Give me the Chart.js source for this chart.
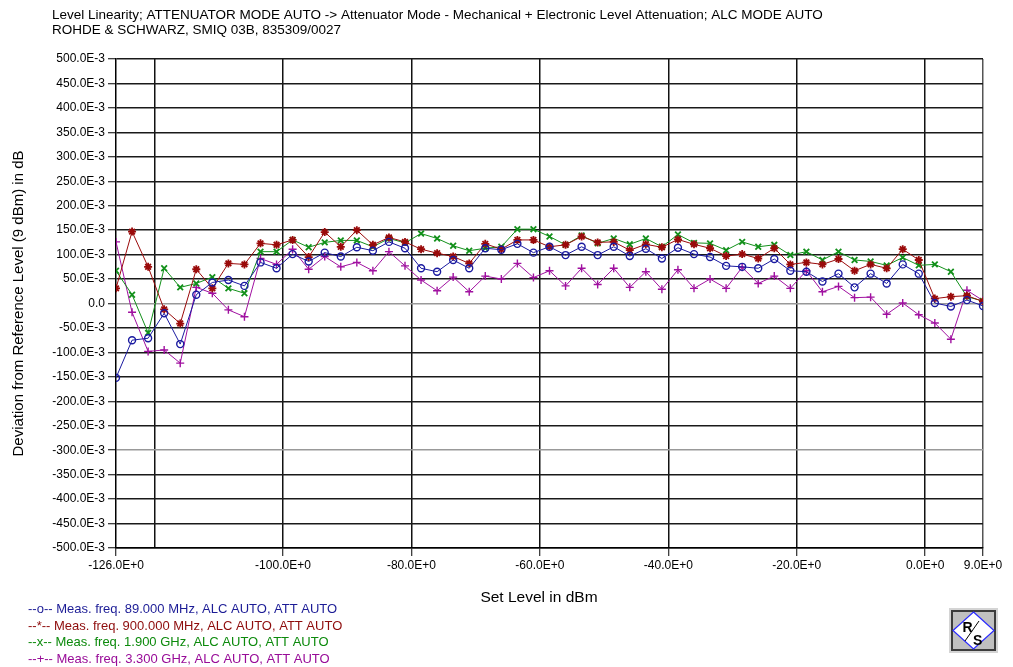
<!DOCTYPE html>
<html>
<head>
<meta charset="utf-8">
<title>Level Linearity</title>
<script src="https://cdn.jsdelivr.net/npm/chart.js@4.4.1/dist/chart.umd.min.js"></script>
<style>
    html, body { margin: 0; padding: 0; background: #fff; }
    #chart-box { position: relative; width: 1013px; height: 667px; }
</style>
</head>
<body>
<div id="chart-box">
    <canvas id="level-chart" width="1013" height="667"></canvas>
</div>
<script>
// Set levels in dBm
const levels = [-126, -123.5, -121, -118.5, -116, -113.5, -111, -108.5, -106, -103.5, -101, -98.5, -96,
    -93.5, -91, -88.5, -86, -83.5, -81, -78.5, -76, -73.5, -71, -68.5, -66, -63.5, -61, -58.5, -56,
    -53.5, -51, -48.5, -46, -43.5, -41, -38.5, -36, -33.5, -31, -28.5, -26, -23.5, -21, -18.5, -16,
    -13.5, -11, -8.5, -6, -3.5, -1, 1.5, 4, 6.5, 9];

// Deviation from reference level, in E-3 dB
const dev89MHz = [-152, -75, -71, -20, -83, 18, 43, 48, 36, 84, 72, 101, 86,
    104, 96, 115, 108, 126, 113, 72, 65, 89, 72, 113, 110, 122, 104, 116, 99,
    116, 99, 116, 97, 112, 92, 114, 101, 95, 77, 75, 72, 91, 67, 65, 45,
    61, 33, 61, 41, 80, 61, 1, -6, 7, -5];
const dev900MHz = [31, 147, 75, -12, -41, 70, 31, 82, 80, 123, 120, 130, 95,
    146, 116, 150, 120, 135, 126, 111, 103, 96, 82, 122, 111, 130, 130, 116, 120,
    137, 125, 126, 109, 121, 115, 131, 121, 113, 97, 101, 92, 113, 80, 84, 80,
    91, 67, 80, 72, 111, 89, 10, 14, 16, 4];
const dev1900MHz = [67, 18, -60, 72, 33, 41, 54, 31, 21, 106, 106, 130, 115,
    125, 129, 129, 116, 133, 124, 143, 133, 118, 108, 113, 116, 152, 152, 137, 120,
    139, 123, 133, 121, 133, 116, 141, 124, 123, 109, 126, 116, 120, 99, 106, 89,
    106, 89, 86, 78, 94, 78, 80, 65, 14, 5];
const dev3300MHz = [126, -18, -98, -95, -122, 33, 21, -13, -27, 92, 80, 111, 70,
    96, 75, 84, 67, 106, 77, 48, 26, 54, 24, 56, 50, 82, 53, 67, 36,
    72, 39, 72, 33, 65, 29, 69, 31, 50, 31, 74, 41, 56, 31, 67, 24,
    35, 12, 13, -22, 1, -23, -40, -73, 27, 6];

// Axis ticks
const xTicks = [-126, -120, -100, -80, -60, -40, -20, 0, 9];
const xLabelled = [-126, -100, -80, -60, -40, -20, 0, 9];

const titleLines = [
    'Level Linearity; ATTENUATOR MODE AUTO -> Attenuator Mode - Mechanical + Electronic Level Attenuation; ALC MODE AUTO',
    'ROHDE & SCHWARZ, SMIQ 03B, 835309/0027'
];
const xAxisTitle = 'Set Level in dBm';
const legendLines = [
    '--o-- Meas. freq. 89.000 MHz, ALC AUTO, ATT AUTO',
    '--*-- Meas. freq. 900.000 MHz, ALC AUTO, ATT AUTO',
    '--x-- Meas. freq. 1.900 GHz, ALC AUTO, ATT AUTO',
    '--+-- Meas. freq. 3.300 GHz, ALC AUTO, ATT AUTO'
];
const legendColors = ['#1c1c96', '#8e0c0c', '#0c8a0c', '#980c98'];

const FONT = '"Liberation Sans", Arial, sans-serif';

function toPoints(values) {
    return values.map((v, i) => ({ x: levels[i], y: v }));
}

// Title, x axis title, legend and logo drawn around the chart
const decorPlugin = {
    id: 'decor',
    afterDraw(chart) {
        const ctx = chart.ctx;
        ctx.save();
        ctx.textBaseline = 'alphabetic';
        ctx.textAlign = 'left';
        ctx.fillStyle = '#000';
        ctx.font = '13.5px ' + FONT;
        ctx.fillText(titleLines[0], 52, 19);
        ctx.fillText(titleLines[1], 52, 34);

        ctx.font = '15.5px ' + FONT;
        ctx.textAlign = 'center';
        ctx.fillText(xAxisTitle, 539, 602);
        ctx.textAlign = 'left';

        ctx.font = '13px ' + FONT;
        legendLines.forEach((line, i) => {
            ctx.fillStyle = legendColors[i];
            ctx.fillText(line, 28, 613 + i * 16.7);
        });

        // R&S logo
        ctx.fillStyle = '#d4d4d4';
        ctx.fillRect(949, 608, 49, 45);
        ctx.fillStyle = '#3c3c3c';
        ctx.fillRect(951, 610, 45, 41);
        ctx.fillStyle = '#c0c0c0';
        ctx.fillRect(953, 612, 41, 37);
        ctx.beginPath();
        ctx.moveTo(973.5, 612);
        ctx.lineTo(994, 630.5);
        ctx.lineTo(973.5, 649);
        ctx.lineTo(953, 630.5);
        ctx.closePath();
        ctx.fillStyle = '#fff';
        ctx.fill();
        ctx.strokeStyle = '#2a2aff';
        ctx.lineWidth = 1.2;
        ctx.stroke();
        ctx.strokeStyle = '#000';
        ctx.lineWidth = 1;
        ctx.beginPath();
        ctx.moveTo(965, 641);
        ctx.lineTo(979, 621);
        ctx.stroke();
        ctx.fillStyle = '#000';
        ctx.font = 'bold 14px ' + FONT;
        ctx.fillText('R', 962.5, 632);
        ctx.fillText('S', 973, 645);
        ctx.restore();
    }
};

const ctx = document.getElementById('level-chart').getContext('2d');
const levelChart = new Chart(ctx, {
    type: 'line',
    data: {
        datasets: [
            {
                label: 'Meas. freq. 89.000 MHz, ALC AUTO, ATT AUTO',
                data: toPoints(dev89MHz),
                borderColor: '#1a1aa0',
                backgroundColor: 'rgba(0,0,0,0)',
                pointStyle: 'circle',
                pointRadius: 3.5,
                pointBorderWidth: 1.4
            },
            {
                label: 'Meas. freq. 900.000 MHz, ALC AUTO, ATT AUTO',
                data: toPoints(dev900MHz),
                borderColor: '#9a0a0a',
                backgroundColor: '#9a0a0a',
                pointStyle: 'star',
                pointRadius: 4,
                pointBorderWidth: 1.8
            },
            {
                label: 'Meas. freq. 1.900 GHz, ALC AUTO, ATT AUTO',
                data: toPoints(dev1900MHz),
                borderColor: '#12901a',
                backgroundColor: '#12901a',
                pointStyle: 'crossRot',
                pointRadius: 4,
                pointBorderWidth: 1.8
            },
            {
                label: 'Meas. freq. 3.300 GHz, ALC AUTO, ATT AUTO',
                data: toPoints(dev3300MHz),
                borderColor: '#a010a0',
                backgroundColor: '#a010a0',
                pointStyle: 'cross',
                pointRadius: 4,
                pointBorderWidth: 1.4
            }
        ]
    },
    options: {
        responsive: false,
        animation: false,
        devicePixelRatio: 1,
        parsing: false,
        elements: { line: { borderWidth: 1, tension: 0 } },
        layout: { padding: { top: 59, right: 30, left: 0, bottom: 0 } },
        plugins: {
            legend: { display: false },
            tooltip: { enabled: false },
            title: { display: false }
        },
        scales: {
            x: {
                type: 'linear',
                min: -126,
                max: 9,
                afterBuildTicks: (scale) => {
                    scale.ticks = xTicks.map(v => ({ value: v }));
                },
                afterFit: (scale) => { scale.height = 119; },
                ticks: {
                    autoSkip: false,
                    maxRotation: 0,
                    padding: 2,
                    color: '#000',
                    font: { family: FONT, size: 12 },
                    callback: (v) => xLabelled.includes(v) ? v.toFixed(1) + 'E+0' : ''
                },
                grid: {
                    lineWidth: 1.5,
                    tickLength: 8,
                    tickWidth: 1,
                    color: (c) => c.tick && c.tick.value === -126 ? 'rgba(0,0,0,0)' : (c.tick && c.tick.value === 9 ? '#555' : '#111'),
                    tickColor: (c) => c.tick && c.tick.value === -120 ? 'rgba(0,0,0,0)' : '#000'
                },
                border: { display: true, color: '#000', width: 1.5 }
            },
            y: {
                type: 'linear',
                min: -500,
                max: 500,
                afterFit: (scale) => { scale.width = 116; },
                ticks: {
                    stepSize: 50,
                    padding: 3,
                    color: '#000',
                    font: { family: FONT, size: 12 },
                    callback: (v) => v === 0 ? '0.0' : v.toFixed(1) + 'E-3'
                },
                grid: {
                    lineWidth: 1.5,
                    tickLength: 8,
                    tickWidth: 1,
                    color: (c) => c.tick && (c.tick.value === 0 || c.tick.value === -300) ? '#999' : '#1a1a1a',
                    tickColor: '#000'
                },
                border: { display: true, color: '#000', width: 1.5 },
                title: {
                    display: true,
                    text: 'Deviation from Reference Level (9 dBm) in dB',
                    color: '#000',
                    font: { family: FONT, size: 15 },
                    padding: { top: 10, bottom: 0 }
                }
            }
        }
    },
    plugins: [decorPlugin]
});
</script>
</body>
</html>
